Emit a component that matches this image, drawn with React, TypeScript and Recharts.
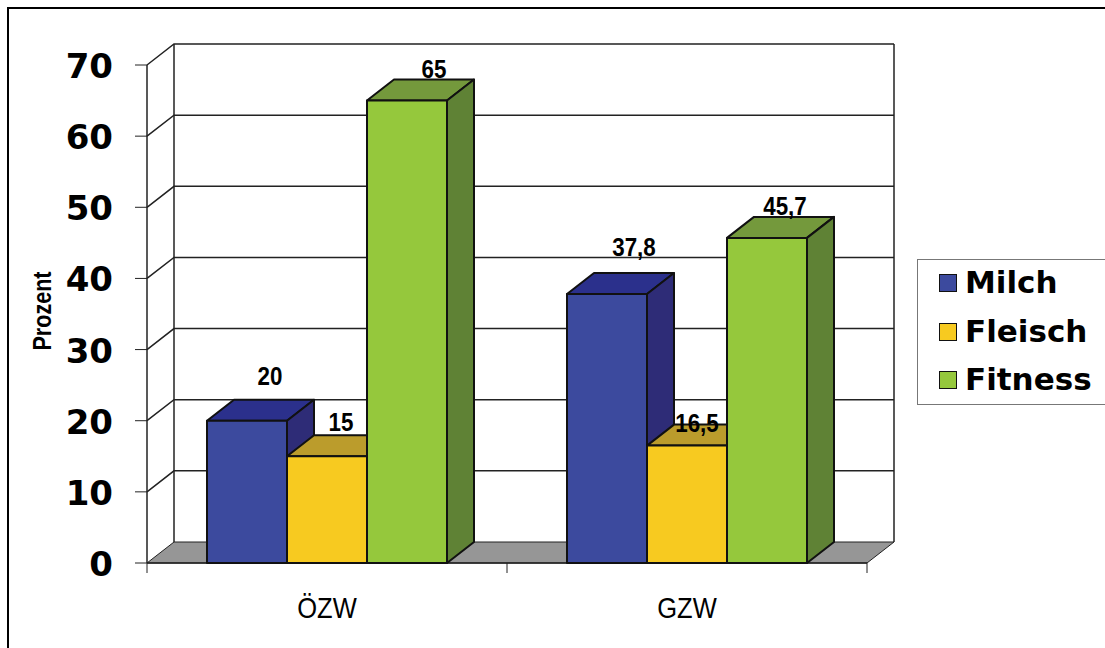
import React from "react";
import { BarChart, Bar, XAxis, YAxis, LabelList, Legend, CartesianGrid } from "recharts";

const categories = ["ÖZW", "GZW"];
const milch = [20, 37.8];
const fleisch = [15, 16.5];
const fitness = [65, 45.7];
const yTicks = [0, 10, 20, 30, 40, 50, 60, 70];

const seriesNames = ["Milch", "Fleisch", "Fitness"];
const frontColors = ["#3c4a9e", "#f7ca20", "#95c83c"];
const topColors = ["#2b308c", "#bb9c2c", "#74993c"];
const sideColors = ["#2e2c77", "#2e2c77", "#5f8235"];

// where the 3d labels sit relative to the bar's top centre, as in the original
const labelOffsets = [
  [[23, -45], [27, -47]],
  [[14, -34], [10, -23]],
  [[27, -32], [18, -32]],
];

const data = categories.map((name, i) => ({
  name,
  Milch: milch[i],
  Fleisch: fleisch[i],
  Fitness: fitness[i],
}));

const DX = 27;
const DY = -21;
const LINE = "#222";
const PLOT_TOP = 65;
const PLOT_BOTTOM = 563;

const Box3d = (props: any) => {
  const { x, y, width, height, front, top, side } = props;
  const r = x + width;
  const b = y + height;
  return (
    <g stroke="#111" strokeWidth={2} strokeLinejoin="round">
      <polygon points={`${x},${y} ${x + DX},${y + DY} ${r + DX},${y + DY} ${r},${y}`} fill={top} />
      <polygon points={`${r},${y} ${r + DX},${y + DY} ${r + DX},${b + DY} ${r},${b}`} fill={side} />
      <rect x={x} y={y} width={width} height={height} fill={front} />
    </g>
  );
};

// narrow bold text: the font is squeezed since no narrow family is installed
const NarrowText = ({ x, y, size, scale, bold, rotate, children }: any) => (
  <text
    transform={`translate(${x},${y}) rotate(${rotate || 0}) scale(${scale},1)`}
    textAnchor="middle"
    dominantBaseline="central"
    fontFamily="Liberation Sans"
    fontWeight={bold ? "bold" : "normal"}
    fontSize={size}
    fill="#000"
  >
    {children}
  </text>
);

const valueLabel = (series: number) => (props: any) => {
  const { x, y, width, value, index } = props;
  const [ox, oy] = labelOffsets[series][index];
  return (
    <NarrowText x={x + width / 2 + ox} y={y + oy} size={26} scale={0.86} bold>
      {String(value).replace(".", ",")}
    </NarrowText>
  );
};

const categoryTick = (props: any) => (
  <NarrowText x={props.x} y={608} size={30} scale={0.85}>
    {props.payload.value}
  </NarrowText>
);

// every gridline runs along the side wall and across the back wall; the bottom one is the floor
const wallLine = (props: any) => {
  const { x1, x2, y1 } = props;
  const step = (x2 - x1) / categories.length;
  if (Math.abs(y1 - PLOT_BOTTOM) < 1) {
    return (
      <g key={props.key}>
        <polygon
          points={`${x1},${y1} ${x1 + DX},${y1 + DY} ${x2 + DX},${y1 + DY} ${x2},${y1}`}
          fill="#969696"
          stroke={LINE}
          strokeWidth={1}
        />
        <line x1={x1} y1={y1} x2={x2} y2={y1} stroke={LINE} strokeWidth={1.5} />
        {[0, 1, 2].map((i) => (
          <line key={i} x1={x1 + step * i} y1={y1} x2={x1 + step * i} y2={y1 + 10} stroke={LINE} strokeWidth={1} />
        ))}
      </g>
    );
  }
  const height = PLOT_BOTTOM - PLOT_TOP;
  return (
    <g key={props.key} fill="none" stroke={LINE} strokeWidth={1.5}>
      <polyline points={`${x1},${y1} ${x1 + DX},${y1 + DY} ${x2 + DX},${y1 + DY}`} />
      {Math.abs(y1 - PLOT_TOP) < 1 && (
        <>
          <line x1={x1 + DX} y1={y1 + DY} x2={x1 + DX} y2={y1 + DY + height} />
          <line x1={x2 + DX} y1={y1 + DY} x2={x2 + DX} y2={y1 + DY + height} />
          <line x1={x1} y1={y1} x2={x1} y2={y1 + height} />
        </>
      )}
    </g>
  );
};

const legendContent = () => (
  <div
    style={{
      position: "absolute",
      left: 917,
      top: 259,
      width: 200,
      height: 146,
      boxSizing: "border-box",
      border: "1px solid #777",
      background: "#fff",
      fontFamily: "DejaVu Sans",
      fontWeight: "bold",
      fontSize: 31,
      lineHeight: "36px",
      color: "#000",
    }}
  >
    {seriesNames.map((name, i) => (
      <div
        key={name}
        style={{ position: "absolute", left: 21, top: i * 48.5 - 2, height: 48, display: "flex", alignItems: "center" }}
      >
        <span
          style={{
            display: "inline-block",
            width: 18,
            height: 18,
            marginRight: 8,
            marginTop: 2,
            boxSizing: "border-box",
            border: "1px solid #111",
            background: frontColors[i],
          }}
        />
        {name}
      </div>
    ))}
  </div>
);

const axisTitle = () => (
  <NarrowText x={42} y={311} size={26} scale={0.83} rotate={-90} bold>
    Prozent
  </NarrowText>
);

export default function App() {
  return (
    <div style={{ position: "absolute", left: 0, top: 0, width: 1105, height: 648, overflow: "hidden", background: "#fff" }}>
      <div style={{ position: "absolute", left: 7, top: 7, right: 0, bottom: 0, borderLeft: "2px solid #000", borderTop: "2px solid #000" }} />
      <div style={{ position: "absolute", left: 0, top: 0 }}>
        <BarChart
          width={1105}
          height={648}
          data={data}
          margin={{ top: PLOT_TOP, right: 238, bottom: 0, left: 0 }}
          barCategoryGap={60}
          barGap={0}
        >
          <CartesianGrid vertical={false} horizontal={wallLine} />
          <XAxis
            dataKey="name"
            height={648 - PLOT_BOTTOM}
            axisLine={false}
            tickLine={false}
            tick={categoryTick}
          />
          <YAxis
            width={147}
            domain={[0, 70]}
            ticks={yTicks}
            interval={0}
            axisLine={false}
            tickSize={12}
            tickMargin={22}
            tickLine={{ stroke: LINE, strokeWidth: 1 }}
            tick={{ fontFamily: "DejaVu Sans", fontWeight: "bold", fontSize: 34, fill: "#000", dy: 1 }}
            label={{ content: axisTitle }}
          />
          {seriesNames.map((name, i) => (
            <Bar
              key={name}
              dataKey={name}
              isAnimationActive={false}
              fill={frontColors[i]}
              shape={<Box3d front={frontColors[i]} top={topColors[i]} side={sideColors[i]} />}
            >
              <LabelList dataKey={name} content={valueLabel(i)} />
            </Bar>
          ))}
          <Legend
            content={legendContent}
            wrapperStyle={{ left: 0, top: 0, bottom: "auto", width: 0, height: 0 }}
          />
        </BarChart>
      </div>
    </div>
  );
}
